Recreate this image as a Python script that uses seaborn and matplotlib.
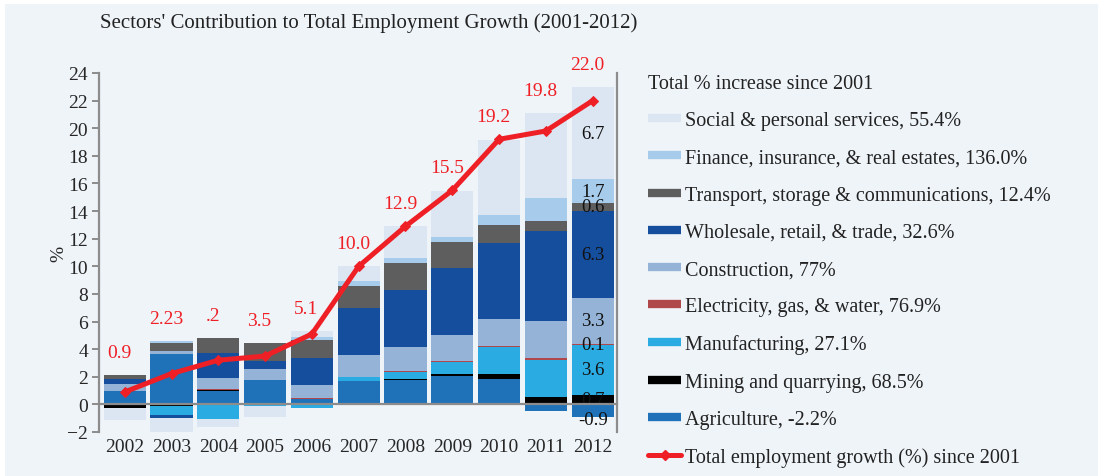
import numpy as np
import seaborn as sns
import matplotlib.pyplot as plt
from matplotlib.lines import Line2D
from matplotlib.patches import Rectangle

# data (percentage points)
years = [str(y) for y in range(2002, 2013)]
agriculture = [1.0, 3.65, 1.0, 1.73, 0.4, 1.66, 1.73, 2.02, 1.87, -0.48, -0.9]
mining = [-0.25, -0.12, 0.05, 0.0, 0.0, 0.05, 0.1, 0.19, 0.36, 0.53, 0.7]
manufacturing = [0.0, -0.67, -1.08, -0.15, -0.24, 0.29, 0.53, 0.86, 1.92, 2.71, 3.6]
electricity = [0.0, 0.0, 0.05, 0.05, 0.07, 0.0, 0.05, 0.07, 0.1, 0.1, 0.1]
construction = [0.5, 0.24, 0.8, 0.8, 0.96, 1.6, 1.78, 1.85, 1.92, 2.71, 3.3]
wholesale = [0.35, -0.2, 1.8, 0.53, 1.92, 3.38, 4.13, 4.9, 5.52, 6.53, 6.3]
transport = [0.25, 0.53, 1.13, 1.32, 1.32, 1.63, 1.92, 1.87, 1.32, 0.67, 0.6]
finance = [0.0, 0.19, 0.0, 0.0, 0.24, 0.34, 0.34, 0.36, 0.67, 1.68, 1.7]
social = [-0.85, -1.27, -0.55, -0.77, 0.41, 1.08, 2.33, 3.31, 5.45, 6.17, 6.7]
total_growth = [0.9, 2.23, 3.2, 3.5, 5.1, 10.0, 12.9, 15.5, 19.2, 19.8, 22.0]
total_labels = ["0.9", "2.23", ".2", "3.5", "5.1", "10.0", "12.9", "15.5", "19.2", "19.8", "22.0"]

legend_labels = [
    "Agriculture, -2.2%",
    "Mining and quarrying, 68.5%",
    "Manufacturing, 27.1%",
    "Electricity, gas, & water, 76.9%",
    "Construction, 77%",
    "Wholesale, retail, & trade, 32.6%",
    "Transport, storage & communications, 12.4%",
    "Finance, insurance, & real estates, 136.0%",
    "Social & personal services, 55.4%",
]
series = [agriculture, mining, manufacturing, electricity, construction,
          wholesale, transport, finance, social]
colors = ["#1F72B8", "#000000", "#2AABE2", "#B0474A", "#95B3D7",
          "#164E9E", "#5E5E5E", "#A7CBEB", "#DCE6F2"]
line_color = "#EE2026"
bg = "#EFF4F9"

sns.set_style("white")
plt.rcParams["font.family"] = ["Liberation Serif", "DejaVu Serif"]
plt.rcParams["text.color"] = "#222222"

fig = plt.figure(figsize=(10.98, 4.77), dpi=100, facecolor="white")
fig.add_artist(Rectangle((5 / 1098, 0), 1, 472 / 477, transform=fig.transFigure,
                         facecolor=bg, edgecolor="none", zorder=-10))
ax = fig.add_axes([99 / 1098, 1 - 433 / 477, 518 / 1098, 359 / 477])
ax.set_facecolor(bg)

# stacked bars, positives upward and negatives downward
pos_cum = np.zeros(len(years))
neg_cum = np.zeros(len(years))
for vals, color in zip(series, colors):
    v = np.array(vals, dtype=float)
    bottom = np.where(v >= 0, pos_cum, neg_cum)
    sns.barplot(x=years, y=v, bottom=bottom, color=color, saturation=1,
                width=0.9, linewidth=0, ax=ax)
    pos_cum += np.clip(v, 0, None)
    neg_cum += np.clip(v, None, 0)

# labels inside the 2012 bar
for cont, vals in zip(ax.containers, series):
    labs = [""] * (len(years) - 1) + [f"{vals[-1]:.1f}"]
    if vals[-1] < 0:
        ax.bar_label(cont, labels=labs, label_type="edge", padding=-4,
                     fontsize=13.5, color="#111111")
    else:
        ax.bar_label(cont, labels=labs, label_type="center", fontsize=13.5,
                     color="#111111")

xpos = np.arange(len(years))
sns.lineplot(x=xpos, y=total_growth, color=line_color, lw=3.6, marker="D",
             markersize=5, markeredgecolor=line_color, ax=ax, zorder=5)
tops = np.maximum(pos_cum, total_growth)
for x, top, lab in zip(xpos, tops, total_labels):
    ax.annotate(lab, (x, top), xytext=(-4, 10), textcoords="offset points",
                ha="center", va="bottom", color=line_color, fontsize=14)

ax.set_ylim(-2, 24)
ax.set_xlim(-0.55, 10.52)
ax.set_yticks(range(-2, 25, 2))
ax.set_ylabel("%", fontsize=14, labelpad=0)
ax.set_xlabel("")

ax.spines["top"].set_visible(False)
for s in ["left", "right", "bottom"]:
    ax.spines[s].set_color("#8C8C8C")
    ax.spines[s].set_linewidth(1.6)
ax.spines["bottom"].set_position(("data", 0))
ax.spines["bottom"].set_zorder(4)
ax.set_xticks(np.arange(-0.5, len(years), 1), minor=True)
ax.tick_params(axis="x", which="major", length=0, pad=24, labelsize=14)
ax.tick_params(axis="x", which="minor", length=7, width=1.4,
               direction="inout", color="#8C8C8C")
ax.tick_params(axis="y", which="major", length=5, width=1.4, color="#8C8C8C",
               left=True, labelsize=14, pad=3)

fig.text(100 / 1098, 1 - 23 / 477, "Sectors' Contribution to Total Employment Growth (2001-2012)",
         fontsize=15, va="center", ha="left")

handles = [Line2D([], [], color=c, lw=6, solid_capstyle="butt")
           for c in colors[::-1]]
handles.append(Line2D([], [], color=line_color, lw=3.6, marker="D",
                      markersize=5))
labels = legend_labels[::-1] + ["Total employment growth (%) since 2001"]
fig.legend(handles, labels, loc="upper left",
           bbox_to_anchor=(648 / 1098, 1 - 75 / 477),
           title="Total % increase since 2001", title_fontsize=14.5,
           fontsize=14.5, frameon=False, handlelength=1.65,
           handletextpad=0.2, labelspacing=0.9, borderpad=0,
           borderaxespad=0, alignment="left")

fig.savefig("out.png", dpi=100, facecolor=fig.get_facecolor())
